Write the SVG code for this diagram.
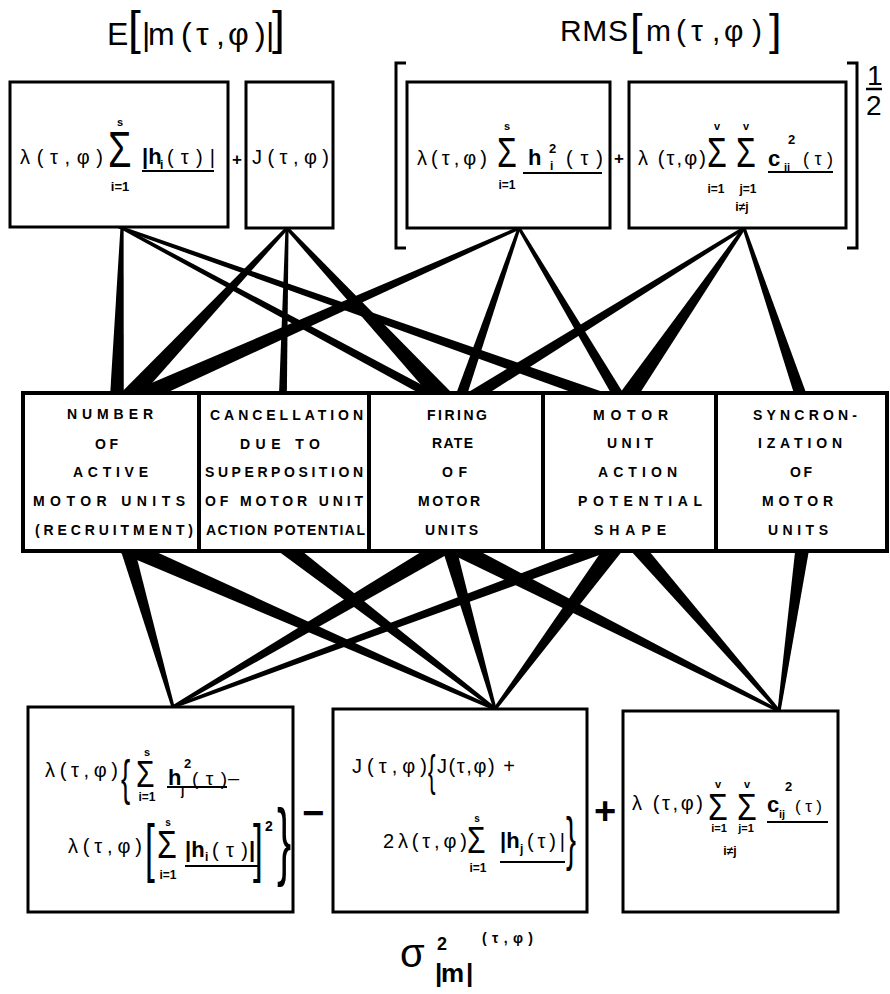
<svg xmlns="http://www.w3.org/2000/svg" width="890" height="994" viewBox="0 0 890 994">
<style>
.bx{fill:#fff;stroke:#000;stroke-width:3}
.mb{fill:#fff;stroke:#000;stroke-width:4}
.w{fill:#000}
text{font-family:"Liberation Sans",Arial,sans-serif;fill:#000}
.m{font-size:20px}
.b{font-weight:bold}
.lb{font-size:14px;font-weight:bold}
.sm{font-size:11px;font-weight:bold}
.ul{stroke:#000;stroke-width:2;fill:none}
.br{stroke:#000;stroke-width:3;fill:none}
.ttl{font-size:32px}
</style>
<rect width="890" height="994" fill="#fff"/>

<g id="connectors" class="w">
<polygon points="120.6,225 109.8,400 123.8,400 123.6,225"/>
<polygon points="113.3,225 431.5,400 450.5,400 119.6,225"/>
<polygon points="109.0,225 593.3,400 626.4,400 118.0,225"/>
<polygon points="287.8,225 113.8,400 137.1,400 291.9,225"/>
<polygon points="285.6,225 278.8,400 286.8,400 288.6,225"/>
<polygon points="282.2,225 434.2,400 458.8,400 286.3,225"/>
<polygon points="522.1,225 111.5,400 151.0,400 529.5,225"/>
<polygon points="518.5,225 453.8,400 465.4,400 521.6,225"/>
<polygon points="515.5,225 614.8,400 627.6,400 519.0,225"/>
<polygon points="746.0,225 455.3,400 478.1,400 751.7,225"/>
<polygon points="744.3,225 614.8,400 635.5,400 747.9,225"/>
<polygon points="741.4,225 796.0,400 808.7,400 744.6,225"/>
<polygon points="119.0,545 172.3,710 175.4,710 133.6,545"/>
<polygon points="101.4,545 498.1,712 505.6,712 141.2,545"/>
<polygon points="269.9,545 496.4,712 501.4,712 294.5,545"/>
<polygon points="432.4,545 164.9,710 170.9,710 464.0,545"/>
<polygon points="441.0,545 494.3,712 497.4,712 455.6,545"/>
<polygon points="432.4,545 781.6,714 788.3,714 467.9,545"/>
<polygon points="595.4,545 160.6,710 169.2,710 627.1,545"/>
<polygon points="605.9,545 490.9,712 494.7,712 627.0,545"/>
<polygon points="625.5,545 779.6,714 783.6,714 644.1,545"/>
<polygon points="795.8,545 777.1,714 780.1,714 809.9,545"/>
</g>

<g id="title-mean">
<text class="ttl" x="107" y="45">E</text>
<text x="128" y="44" font-size="46">[</text>
<text class="ttl" x="142 148 181 196 216 228 255 266" y="45">|m(τ,φ)|</text>
<text x="272" y="44" font-size="46">]</text>
</g>

<g id="title-rms">
<text x="560" y="41" font-size="30" textLength="68">RMS</text>
<text x="630" y="45" font-size="45">[</text>
<text x="646 676 691 712 724 752" y="41" font-size="30">m(τ,φ)</text>
<text x="769" y="45" font-size="45">]</text>
</g>

<g id="node-abs-sum">
<rect class="bx" x="10" y="82" width="218" height="145"/>
<text class="m" x="20" y="164" textLength="83">λ(τ,φ)</text>
<text transform="translate(108,167) scale(1,1.3)" font-size="38">Σ</text>
<text class="sm" x="120" y="126" text-anchor="middle">s</text>
<text class="b" x="120" y="191" font-size="13" text-anchor="middle">i=1</text>
<text x="142" y="164" font-size="22" class="b">|h</text>
<text x="160" y="169" font-size="12" class="b">i</text>
<text class="m" x="167" y="164" textLength="48">(τ)|</text>
<line class="ul" x1="142" y1="171" x2="214" y2="171"/>
</g>
<text class="b" x="237" y="165" font-size="17" text-anchor="middle">+</text>
<g id="node-J">
<rect class="bx" x="246" y="82" width="87" height="146"/>
<text class="m" x="252" y="164" textLength="77">J(τ,φ)</text>
</g>

<g id="rms-bracket">
<path class="br" d="M406,63 H396 V248 H406"/>
<path class="br" d="M847,63 H857 V248 H847"/>
<text x="867" y="85" font-size="28">1</text>
<line x1="866" y1="89" x2="882" y2="89" stroke="#000" stroke-width="2.5"/>
<text x="866" y="115" font-size="28">2</text>
</g>

<g id="node-sq-sum">
<rect class="bx" x="407" y="82" width="203" height="146"/>
<text class="m" x="417" y="165" textLength="70">λ(τ,φ)</text>
<text transform="translate(497,167) scale(1,1.3)" font-size="32">Σ</text>
<text class="sm" x="507" y="130" text-anchor="middle">s</text>
<text class="b" x="507" y="189" font-size="12" text-anchor="middle">i=1</text>
<text x="528" y="165" font-size="22" class="b">h</text>
<text x="549" y="153" font-size="13" class="b">2</text>
<text x="550" y="170" font-size="12" class="b">i</text>
<text class="m" x="566" y="165" textLength="37">(τ)</text>
<line class="ul" x1="523" y1="173" x2="602" y2="173"/>
</g>
<text class="b" x="619" y="164" font-size="17" text-anchor="middle">+</text>
<g id="node-cross-sum">
<rect class="bx" x="629" y="82" width="217" height="146"/>
<text class="m" x="638" y="165" textLength="68">λ (τ,φ)</text>
<text transform="translate(707,167) scale(1,1.3)" font-size="32">Σ</text>
<text transform="translate(736,167) scale(1,1.3)" font-size="32">Σ</text>
<text class="sm" x="717" y="130" text-anchor="middle">v</text>
<text class="sm" x="746" y="130" text-anchor="middle">v</text>
<text class="b" x="716" y="193" font-size="12" text-anchor="middle">i=1</text>
<text class="b" x="748" y="193" font-size="12" text-anchor="middle">j=1</text>
<text class="b" x="742" y="211" font-size="12" text-anchor="middle">i≠j</text>
<text x="768" y="166" font-size="22" class="b">c</text>
<text x="788" y="144" font-size="13" class="b">2</text>
<text x="784" y="171" font-size="11" class="b">ij</text>
<text x="803" y="165" font-size="18" textLength="30">(τ)</text>
<line class="ul" x1="768" y1="172" x2="833" y2="172"/>
</g>

<g id="node-number">
<rect class="mb" x="23" y="393" width="176" height="158"/>
<text class="lb" x="67" y="419" textLength="86">NUMBER</text>
<text class="lb" x="95" y="449" textLength="23">OF</text>
<text class="lb" x="73" y="477" textLength="75">ACTIVE</text>
<text class="lb" x="33" y="506" textLength="152">MOTOR UNITS</text>
<text class="lb" x="35" y="535" textLength="158">(RECRUITMENT)</text>
</g>
<g id="node-cancellation">
<rect class="mb" x="199" y="393" width="170" height="158"/>
<text class="lb" x="210" y="420" textLength="153">CANCELLATION</text>
<text class="lb" x="240" y="449" textLength="80">DUE TO</text>
<text class="lb" x="205" y="477" textLength="158">SUPERPOSITION</text>
<text class="lb" x="205" y="506" textLength="158">OF MOTOR UNIT</text>
<text class="lb" x="206" y="535" textLength="159">ACTION POTENTIAL</text>
</g>
<g id="node-firing">
<rect class="mb" x="369" y="393" width="174" height="158"/>
<text class="lb" x="427" y="420" textLength="60">FIRING</text>
<text class="lb" x="432" y="448" textLength="41">RATE</text>
<text class="lb" x="442" y="477" textLength="25">OF</text>
<text class="lb" x="418" y="506" textLength="62">MOTOR</text>
<text class="lb" x="425" y="535" textLength="53">UNITS</text>
</g>
<g id="node-shape">
<rect class="mb" x="543" y="393" width="173" height="158"/>
<text class="lb" x="593" y="420" textLength="75">MOTOR</text>
<text class="lb" x="607" y="448" textLength="46">UNIT</text>
<text class="lb" x="598" y="477" textLength="79">ACTION</text>
<text class="lb" x="578" y="506" textLength="124">POTENTIAL</text>
<text class="lb" x="594" y="535" textLength="72">SHAPE</text>
</g>
<g id="node-sync">
<rect class="mb" x="716" y="393" width="171" height="158"/>
<text class="lb" x="753" y="420" textLength="104">SYNCRON-</text>
<text class="lb" x="758" y="448" textLength="84">IZATION</text>
<text class="lb" x="790" y="477" textLength="22">OF</text>
<text class="lb" x="762" y="506" textLength="71">MOTOR</text>
<text class="lb" x="768" y="535" textLength="60">UNITS</text>
</g>

<g id="node-var1">
<rect class="bx" x="28" y="707" width="265" height="205"/>
<text class="m" x="45" y="777" textLength="73">λ(τ,φ)</text>
<text transform="translate(121,795) scale(0.55,1)" font-size="50">{</text>
<text transform="translate(136,787) scale(1,1.2)" font-size="30">Σ</text>
<text class="sm" x="147" y="756" text-anchor="middle">s</text>
<text class="b" x="147" y="801" font-size="12" text-anchor="middle">i=1</text>
<text x="168" y="785" font-size="22" class="b">h</text>
<text x="184" y="768" font-size="13" class="b">2</text>
<text x="181" y="795" font-size="12" class="b">j</text>
<text x="192" y="785" font-size="19" textLength="35">(τ)</text>
<text x="228" y="785" font-size="20">–</text>
<line class="ul" x1="167" y1="787" x2="227" y2="787"/>
<text class="m" x="68" y="853" textLength="74">λ(τ,φ)</text>
<text transform="translate(145,870) scale(0.55,1)" font-size="64">[</text>
<text transform="translate(157,858) scale(1,1.2)" font-size="32">Σ</text>
<text x="168" y="826" font-size="10" class="b" text-anchor="middle">s</text>
<text class="b" x="168" y="879" font-size="12" text-anchor="middle">i=1</text>
<text x="185" y="857" font-size="22" class="b">|h</text>
<text x="205" y="861" font-size="12" class="b">i</text>
<text x="212" y="857" font-size="20" textLength="36">(τ)</text>
<text x="249" y="857" font-size="22" class="b">|</text>
<line class="ul" x1="185" y1="866" x2="258" y2="866"/>
<text transform="translate(253,870) scale(0.55,1)" font-size="64">]</text>
<text x="265" y="831" font-size="14" class="b">2</text>
<text transform="translate(277,869) scale(0.5,1)" font-size="85">}</text>
</g>
<text x="302" y="826" font-size="38" class="b">−</text>

<g id="node-var2">
<rect class="bx" x="333" y="709" width="254" height="203"/>
<text class="m" x="352" y="773" textLength="75">J(τ,φ)</text>
<text transform="translate(428,786) scale(0.5,1)" font-size="45">{</text>
<text class="m" x="437" y="773" textLength="78">J(τ,φ) +</text>
<text class="m" x="383" y="848" textLength="84">2λ(τ,φ)</text>
<text transform="translate(467,853) scale(1,1.2)" font-size="30">Σ</text>
<text x="477" y="822" font-size="10" class="b" text-anchor="middle">s</text>
<text class="b" x="478" y="872" font-size="12" text-anchor="middle">i=1</text>
<text x="500" y="848" font-size="22" class="b">|h</text>
<text x="520" y="853" font-size="12" class="b">j</text>
<text x="527" y="848" font-size="20" textLength="38">(τ)|</text>
<line class="ul" x1="500" y1="862" x2="565" y2="862"/>
<text transform="translate(566,859) scale(0.5,1)" font-size="60">}</text>
</g>
<text x="594" y="824" font-size="38" class="b">+</text>

<g id="node-var3">
<rect class="bx" x="623" y="711" width="215" height="201"/>
<text class="m" x="632" y="810" textLength="71">λ (τ,φ)</text>
<text transform="translate(708,820) scale(1,1.18)" font-size="32">Σ</text>
<text transform="translate(737,820) scale(1,1.18)" font-size="32">Σ</text>
<text class="sm" x="718" y="788" text-anchor="middle">v</text>
<text class="sm" x="747" y="788" text-anchor="middle">v</text>
<text class="b" x="719" y="832" font-size="11" text-anchor="middle">i=1</text>
<text class="b" x="746" y="832" font-size="11" text-anchor="middle">j=1</text>
<text class="b" x="730" y="855" font-size="12" text-anchor="middle">i≠j</text>
<text x="767" y="812" font-size="22" class="b">c</text>
<text x="785" y="791" font-size="13" class="b">2</text>
<text x="779" y="818" font-size="11" class="b">ij</text>
<text x="795" y="812" font-size="17" textLength="27">(τ)</text>
<line class="ul" x1="767" y1="822" x2="828" y2="822"/>
</g>

<g id="title-variance">
<text x="400" y="967" font-size="40">σ</text>
<text x="437" y="950" font-size="18" class="b">2</text>
<text x="435 441 466" y="982" font-size="26" class="b">|m|</text>
<text x="482" y="943" font-size="14" class="b" textLength="51">(τ,φ)</text>
</g>
</svg>
